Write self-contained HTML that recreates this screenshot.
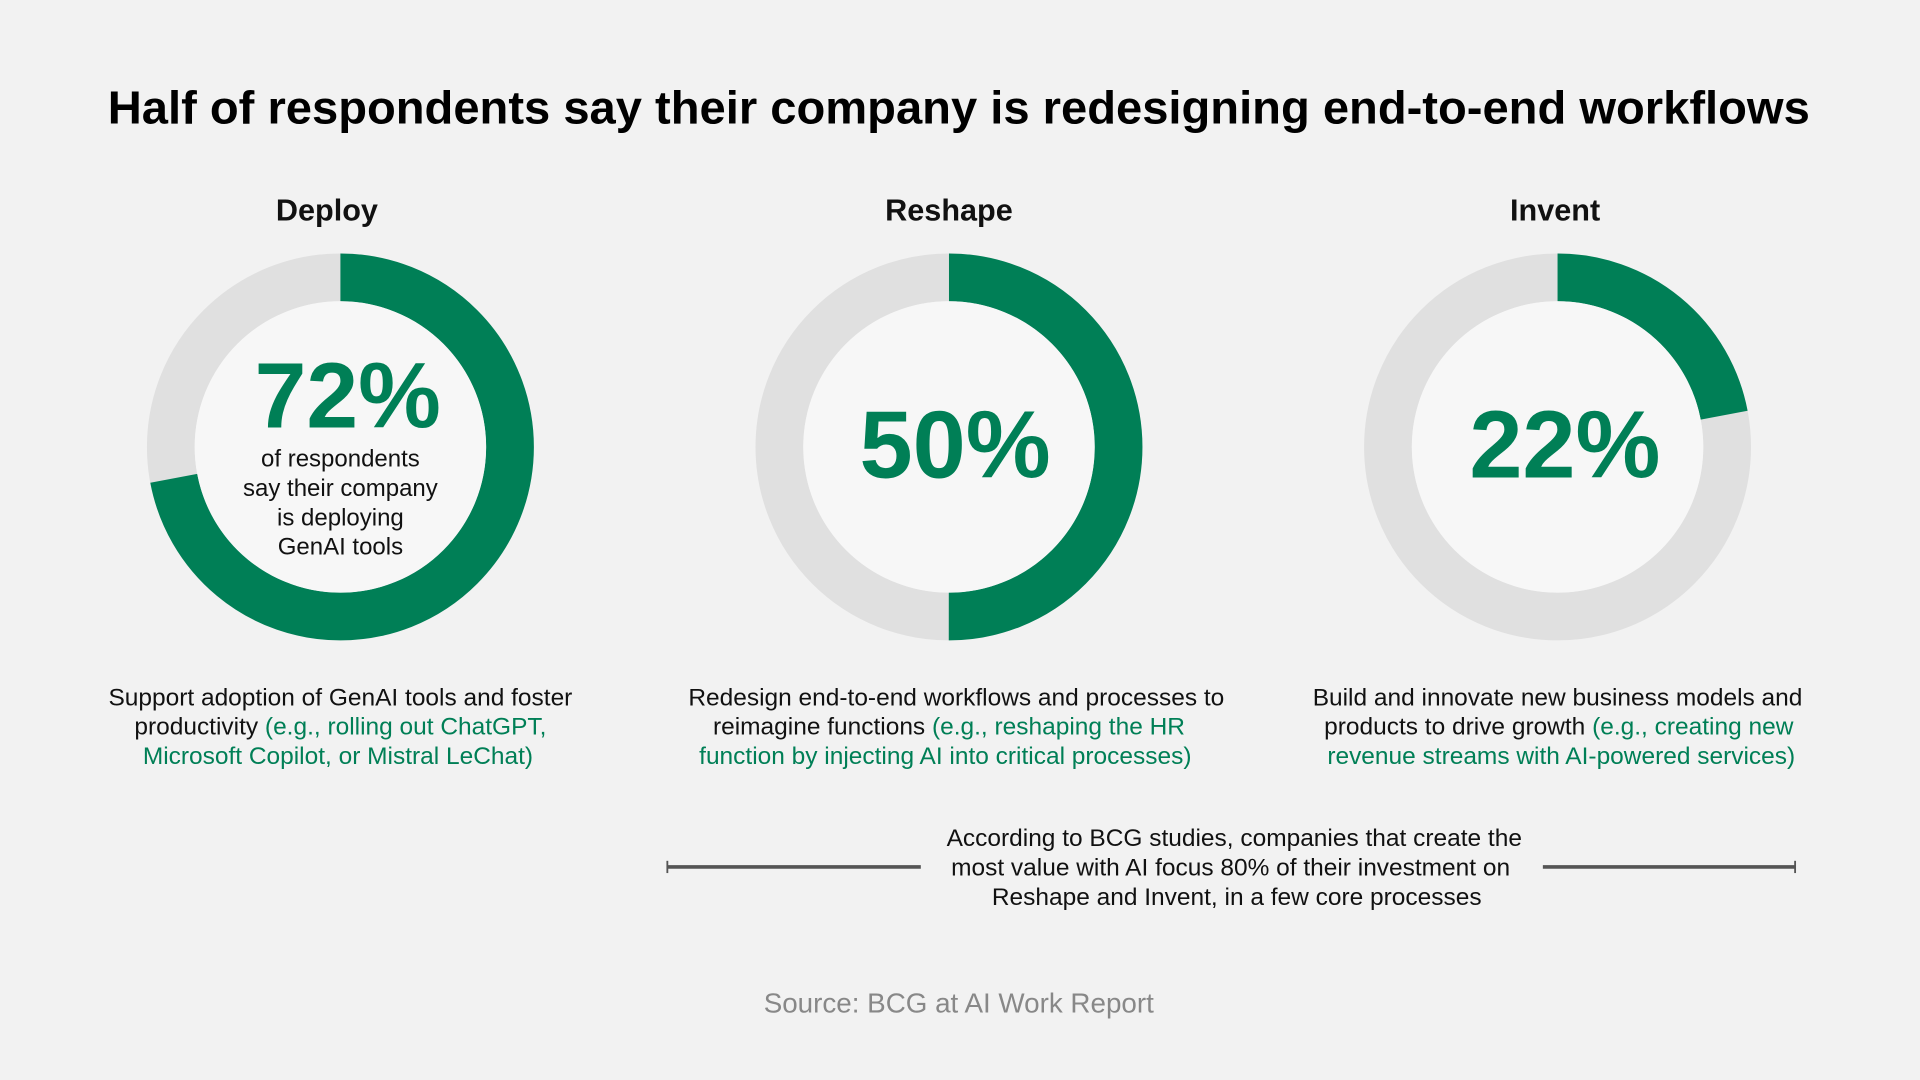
<!DOCTYPE html>
<html><head><meta charset="utf-8"><style>
html,body{margin:0;padding:0;background:#f2f2f2;}
svg{display:block;}
text{font-family:"Liberation Sans",Arial,sans-serif;}
</style></head><body>
<svg width="1920" height="1080" viewBox="0 0 1568 882" xmlns="http://www.w3.org/2000/svg">
<rect width="1568" height="882" fill="#f2f2f2"/>
<text x="783" y="101" text-anchor="middle" font-size="38" font-weight="bold" fill="#000" textLength="1390" lengthAdjust="spacingAndGlyphs">Half of respondents say their company is redesigning end-to-end workflows</text>

<g font-size="25" font-weight="bold" fill="#111" text-anchor="middle">
<text x="267" y="180">Deploy</text>
<text x="775" y="180">Reshape</text>
<text x="1270" y="180">Invent</text>
</g>

<g fill="none" stroke-width="39">
<circle cx="278" cy="365" r="138.5" stroke="#e0e0e0"/>
<circle cx="278" cy="365" r="138.5" stroke="#007f56" stroke-dasharray="626.6 1000" transform="rotate(-90 278 365)"/>
<circle cx="775" cy="365" r="138.5" stroke="#e0e0e0"/>
<circle cx="775" cy="365" r="138.5" stroke="#007f56" stroke-dasharray="435.1 1000" transform="rotate(-90 775 365)"/>
<circle cx="1272" cy="365" r="138.5" stroke="#e0e0e0"/>
<circle cx="1272" cy="365" r="138.5" stroke="#007f56" stroke-dasharray="191.4 1000" transform="rotate(-90 1272 365)"/>
</g>
<circle cx="278" cy="365" r="119" fill="#f7f7f7"/>
<circle cx="775" cy="365" r="119" fill="#f7f7f7"/>
<circle cx="1272" cy="365" r="119" fill="#f7f7f7"/>

<g font-weight="bold" fill="#007f56" text-anchor="middle">
<text x="284" y="349" font-size="76">72%</text>
<text x="780" y="390" font-size="78">50%</text>
<text x="1278" y="390" font-size="78">22%</text>
</g>
<g font-size="19.6" fill="#111" text-anchor="middle">
<text x="278" y="381">of respondents</text>
<text x="278" y="405">say their company</text>
<text x="278" y="429">is deploying</text>
<text x="278" y="453">GenAI tools</text>
</g>

<g font-size="20" fill="#111" text-anchor="middle">
<text x="278" y="576">Support adoption of GenAI tools and foster</text>
<text x="278" y="600">productivity <tspan fill="#007f56"> (e.g., rolling out ChatGPT,</tspan></text>
<text x="276" y="624" fill="#007f56">Microsoft Copilot, or Mistral LeChat)</text>

<text x="781" y="576">Redesign end-to-end workflows and processes to</text>
<text x="775" y="600">reimagine functions <tspan fill="#007f56">(e.g., reshaping the HR</tspan></text>
<text x="772" y="624" fill="#007f56">function by injecting AI into critical processes)</text>

<text x="1272" y="576">Build and innovate new business models and</text>
<text x="1273" y="600">products to drive growth <tspan fill="#007f56">(e.g., creating new</tspan></text>
<text x="1275" y="624" fill="#007f56">revenue streams with AI-powered services)</text>

<text x="1008" y="691">According to BCG studies, companies that create the</text>
<text x="1005" y="715">most value with AI focus 80% of their investment on</text>
<text x="1010" y="739">Reshape and Invent, in a few core processes</text>
</g>

<g stroke="#555" stroke-width="3">
<line x1="545" y1="708" x2="752" y2="708"/>
<line x1="1260" y1="708" x2="1466" y2="708"/>
</g>
<g stroke="#555" stroke-width="1.5">
<line x1="545" y1="703" x2="545" y2="713"/>
<line x1="1466" y1="703" x2="1466" y2="713"/>
</g>

<text x="783" y="827" text-anchor="middle" font-size="22.7" fill="#888">Source: BCG at AI Work Report</text>
</svg>
</body></html>
